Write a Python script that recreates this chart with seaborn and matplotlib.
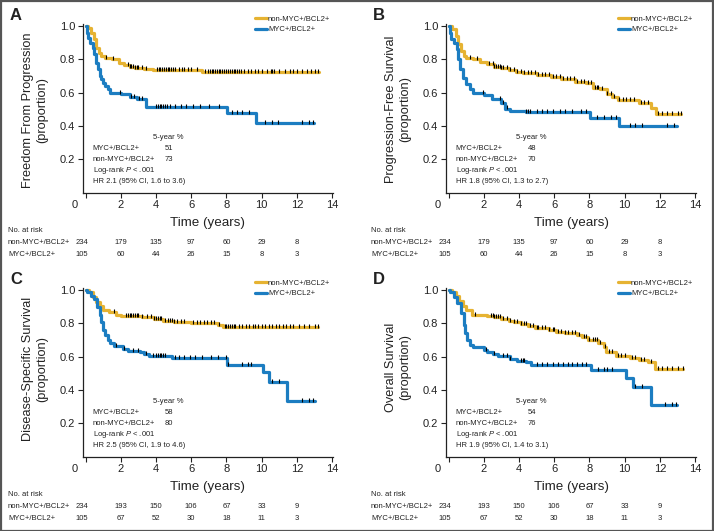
import numpy as np
import pandas as pd
import matplotlib
matplotlib.use("Agg")
import matplotlib.pyplot as plt
import seaborn as sns
from matplotlib.transforms import blended_transform_factory, ScaledTranslation

sns.set_theme(style="ticks")
FAM = ["Liberation Sans", "DejaVu Sans"]
plt.rcParams["font.family"] = FAM
plt.rcParams["mathtext.fontset"] = "custom"
plt.rcParams["mathtext.it"] = "Liberation Sans:italic"
plt.rcParams["mathtext.rm"] = "Liberation Sans"

YEL = "#E6B332"
BLU = "#1C7DC1"
INK = "#222222"

groups = ["non-MYC+/BCL2+", "MYC+/BCL2+"]
risk_times = [0, 2, 4, 6, 8, 10, 12]

# ---------------- Panel A : Freedom From Progression ----------------
a_yel_t = [0, 0.15, 0.3, 0.45, 0.6, 0.75, 0.9, 1.1, 1.5, 1.9, 2.2, 2.5, 2.8, 3.3, 3.8, 4.2, 6.6]
a_yel_s = [1.0, 0.99, 0.96, 0.92, 0.87, 0.84, 0.82, 0.81, 0.80, 0.78, 0.765, 0.755, 0.748, 0.742, 0.736, 0.733, 0.722]
a_yel_end = 13.25
a_yel_c = [1.17, 1.55, 2.4, 2.5, 2.6, 2.7, 2.8, 2.9, 3.0, 3.2, 3.4, 4.05, 4.15, 4.25, 4.35, 4.45, 4.55,
           4.65, 4.75, 4.85, 4.95, 5.1, 5.3, 5.5, 5.6, 5.8, 6.0, 6.3, 6.8, 6.95, 7.05, 7.15, 7.25, 7.35,
           7.45, 7.55, 7.65, 7.75, 7.85, 7.95, 8.1, 8.2, 8.3, 8.4, 8.5, 8.6, 8.7, 8.85, 9.0, 9.2, 9.4,
           9.6, 9.8, 10.0, 10.3, 10.5, 10.6, 10.7, 11.0, 11.3, 11.6, 11.8, 12.0, 12.3, 12.6, 12.8, 13.0, 13.2]
a_blu_t = [0, 0.05, 0.12, 0.25, 0.4, 0.5, 0.6, 0.7, 0.8, 0.9, 1.0, 1.1, 1.25, 1.4, 2.0, 2.5, 2.9, 3.4, 8.05, 9.65]
a_blu_s = [1.0, 0.96, 0.93, 0.90, 0.87, 0.83, 0.78, 0.74, 0.70, 0.68, 0.66, 0.64, 0.62, 0.60, 0.59, 0.575, 0.56, 0.512, 0.476, 0.42]
a_blu_end = 12.95
a_blu_c = [1.95, 2.55, 2.75, 3.05, 3.2, 4.0, 4.1, 4.2, 4.3, 4.4, 4.5, 4.6, 4.8, 5.1, 5.4, 5.7, 6.1,
           6.5, 7.0, 7.6, 8.3, 8.6, 8.9, 9.3, 10.2, 10.6, 10.9, 12.3, 12.7, 12.9]
a_five = [51, 73]
a_hr = "HR 2.1 (95% CI, 1.6 to 3.6)"
a_risk_non = [234, 179, 135, 97, 60, 29, 8]
a_risk_myc = [105, 60, 44, 26, 15, 8, 3]

# ---------------- Panel B : Progression-Free Survival ----------------
b_yel_t = [0, 0.2, 0.4, 0.55, 0.7, 0.85, 1.0, 1.4, 1.8, 2.2, 2.6, 3.0, 3.4, 3.8, 4.2, 5.0, 5.8, 6.4,
           7.2, 7.8, 8.2, 8.6, 9.0, 9.3, 9.6, 10.8, 11.5, 11.8]
b_yel_s = [1.0, 0.98, 0.94, 0.89, 0.85, 0.82, 0.81, 0.80, 0.786, 0.77, 0.755, 0.745, 0.735, 0.725,
           0.715, 0.705, 0.695, 0.68, 0.665, 0.655, 0.63, 0.62, 0.59, 0.575, 0.557, 0.535, 0.51, 0.47]
b_yel_end = 13.2
b_yel_c = [1.2, 1.6, 2.3, 2.5, 2.6, 2.7, 2.8, 2.9, 3.0, 3.1, 3.3, 3.5, 3.7, 3.9, 4.1, 4.3, 4.5, 4.7,
           4.9, 5.1, 5.3, 5.5, 5.7, 5.9, 6.1, 6.3, 6.5, 6.7, 6.9, 7.1, 7.3, 7.5, 7.7, 7.9, 8.1, 8.3,
           8.4, 8.5, 8.7, 9.0, 9.2, 9.4, 9.7, 9.9, 10.1, 10.3, 10.5, 10.9, 11.1, 11.3, 11.9, 12.1,
           12.4, 12.7, 13.0, 13.2]
b_blu_t = [0, 0.05, 0.15, 0.3, 0.45, 0.55, 0.65, 0.8, 1.0, 1.2, 1.4, 2.0, 2.45, 3.0, 3.2, 3.5, 4.4, 8.05, 9.65]
b_blu_s = [1.0, 0.96, 0.92, 0.90, 0.86, 0.80, 0.74, 0.69, 0.65, 0.62, 0.595, 0.585, 0.56, 0.535,
           0.505, 0.49, 0.482, 0.45, 0.40]
b_blu_end = 12.95
b_blu_c = [1.95, 2.9, 3.1, 3.3, 4.4, 4.5, 4.6, 5.0, 5.3, 5.6, 5.9, 6.3, 6.6, 7.0, 7.5, 7.8, 8.4,
           8.8, 9.2, 9.5, 10.3, 10.6, 11.0, 12.4, 12.8]
b_five = [48, 70]
b_hr = "HR 1.8 (95% CI, 1.3 to 2.7)"
b_risk_non = [234, 179, 135, 97, 60, 29, 8]
b_risk_myc = [105, 60, 44, 26, 15, 8, 3]

# ---------------- Panel C : Disease-Specific Survival ----------------
c_yel_t = [0, 0.2, 0.4, 0.6, 0.8, 1.0, 1.3, 1.7, 2.0, 3.2, 3.9, 4.4, 5.0, 6.0, 7.5, 7.8]
c_yel_s = [1.0, 0.985, 0.96, 0.93, 0.905, 0.88, 0.865, 0.85, 0.845, 0.835, 0.825, 0.815, 0.81, 0.80, 0.79, 0.776]
c_yel_end = 13.2
c_yel_c = [1.6, 2.3, 2.4, 2.5, 2.6, 2.7, 2.8, 2.9, 3.0, 3.2, 3.5, 3.7, 3.9, 4.0, 4.1, 4.2, 4.3, 4.5,
           4.7, 4.8, 4.9, 5.0, 5.2, 5.4, 5.6, 6.1, 6.3, 6.5, 6.7, 6.9, 7.1, 7.3, 7.6, 7.9, 8.0, 8.1,
           8.2, 8.3, 8.4, 8.5, 8.7, 8.9, 9.1, 9.3, 9.5, 9.6, 9.8, 10.0, 10.2, 10.4, 10.6, 10.8, 11.0,
           11.2, 11.4, 11.6, 11.8, 12.1, 12.4, 12.7, 13.0, 13.2]
c_blu_t = [0, 0.1, 0.3, 0.5, 0.65, 0.8, 0.9, 1.0, 1.1, 1.25, 1.4, 1.6, 2.15, 2.4, 3.1, 3.3, 3.6, 4.9,
           8.03, 10.1, 10.4, 11.45]
c_blu_s = [1.0, 0.985, 0.965, 0.945, 0.90, 0.85, 0.81, 0.76, 0.73, 0.70, 0.68, 0.665, 0.648, 0.636,
           0.626, 0.616, 0.603, 0.59, 0.55, 0.51, 0.446, 0.332]
c_blu_end = 13.0
c_blu_c = [1.7, 2.2, 2.7, 3.0, 3.4, 3.8, 4.0, 4.1, 4.2, 4.3, 4.4, 4.5, 5.1, 5.3, 5.6, 5.9, 6.2, 6.6,
           7.1, 7.5, 8.0, 8.1, 8.9, 9.2, 9.4, 10.6, 11.0, 12.3, 12.7, 12.9]
c_five = [58, 80]
c_hr = "HR 2.5 (95% CI, 1.9 to 4.6)"
c_risk_non = [234, 193, 150, 106, 67, 33, 9]
c_risk_myc = [105, 67, 52, 30, 18, 11, 3]

# ---------------- Panel D : Overall Survival ----------------
d_yel_t = [0, 0.2, 0.4, 0.6, 0.8, 1.0, 1.3, 2.2, 2.6, 3.0, 3.4, 3.7, 4.1, 4.5, 4.9, 5.7, 6.1, 6.6,
           7.3, 7.6, 7.9, 8.5, 8.8, 8.95, 9.5, 10.3, 10.8, 11.3, 11.7]
d_yel_s = [1.0, 0.99, 0.965, 0.935, 0.905, 0.88, 0.85, 0.842, 0.835, 0.826, 0.816, 0.806, 0.796,
           0.783, 0.772, 0.76, 0.748, 0.74, 0.73, 0.716, 0.697, 0.68, 0.656, 0.625, 0.606, 0.594,
           0.578, 0.566, 0.526]
d_yel_end = 13.3
d_yel_c = [1.5, 2.4, 2.5, 2.6, 2.7, 2.8, 2.9, 3.1, 3.3, 3.5, 3.7, 3.9, 4.1, 4.3, 4.4, 4.6, 4.8, 5.0,
           5.1, 5.3, 5.5, 5.7, 5.9, 6.0, 6.2, 6.4, 6.6, 6.8, 7.0, 7.2, 7.4, 7.7, 7.8, 8.0, 8.2, 8.3,
           8.4, 8.6, 8.9, 9.1, 9.3, 9.6, 9.8, 10.0, 10.4, 10.6, 10.9, 11.1, 11.5, 11.9, 12.1, 12.4,
           12.7, 13.0, 13.3]
d_blu_t = [0, 0.1, 0.3, 0.5, 0.7, 0.85, 0.95, 1.05, 1.2, 1.4, 2.0, 2.2, 2.5, 2.8, 3.5, 3.9, 4.4, 4.7,
           8.1, 10.08, 10.45, 11.5]
d_blu_s = [1.0, 0.99, 0.96, 0.92, 0.86, 0.79, 0.74, 0.70, 0.67, 0.656, 0.64, 0.626, 0.615, 0.602,
           0.586, 0.576, 0.566, 0.55, 0.522, 0.472, 0.416, 0.31]
d_blu_end = 12.95
d_blu_c = [2.1, 2.6, 3.1, 3.3, 3.5, 4.1, 4.2, 4.3, 5.0, 5.3, 5.6, 5.9, 6.2, 6.5, 6.8, 7.0, 7.3, 7.6,
           7.8, 8.5, 8.8, 9.0, 9.3, 10.6, 11.0, 12.3, 12.7, 12.9]
d_five = [54, 76]
d_hr = "HR 1.9 (95% CI, 1.4 to 3.1)"
d_risk_non = [234, 193, 150, 106, 67, 33, 9]
d_risk_myc = [105, 67, 52, 30, 18, 11, 3]

panel_letters = ["A", "B", "C", "D"]
panel_ylabels = ["Freedom From Progression", "Progression-Free Survival",
                 "Disease-Specific Survival", "Overall Survival"]

W, H = 714, 531
fig = plt.figure(figsize=(W / 100, H / 100), dpi=100)


def fx(px):
    return px / W


def fy(py):
    return 1 - py / H


def curve(ax, t, s, end, cens, color, label):
    df = pd.DataFrame({"time": list(t) + [end], "surv": list(s) + [s[-1]]})
    sns.lineplot(data=df, x="time", y="surv", drawstyle="steps-post", color=color, lw=2.3,
                 estimator=None, ax=ax, label=label, zorder=2)
    idx = np.searchsorted(np.asarray(t), np.asarray(cens), side="right") - 1
    cy = np.asarray(s)[idx] + 0.006
    sns.scatterplot(x=cens, y=cy, marker="|", color="black", s=8, linewidth=0.8,
                    ax=ax, legend=False, zorder=3)


panels = [
    (a_yel_t, a_yel_s, a_yel_end, a_yel_c, a_blu_t, a_blu_s, a_blu_end, a_blu_c, a_five, a_hr, a_risk_non, a_risk_myc),
    (b_yel_t, b_yel_s, b_yel_end, b_yel_c, b_blu_t, b_blu_s, b_blu_end, b_blu_c, b_five, b_hr, b_risk_non, b_risk_myc),
    (c_yel_t, c_yel_s, c_yel_end, c_yel_c, c_blu_t, c_blu_s, c_blu_end, c_blu_c, c_five, c_hr, c_risk_non, c_risk_myc),
    (d_yel_t, d_yel_s, d_yel_end, d_yel_c, d_blu_t, d_blu_s, d_blu_end, d_blu_c, d_five, d_hr, d_risk_non, d_risk_myc),
]
offsets = [(0, 0), (363, 0), (0, 264), (363, 264)]

SMALL = 5.5
for i, (pdata, (ox, oy)) in enumerate(zip(panels, offsets)):
    (yt, ys, yend, yc, bt, bs, bend, bc, five, hr, rnon, rmyc) = pdata
    left, right, top, bottom = 83 + ox, 333 + ox, 24.3 + oy, 192.7 + oy
    ax = fig.add_axes([fx(left), fy(bottom), fx(right - left), (bottom - top) / H])
    curve(ax, yt, ys, yend, yc, YEL, groups[0])
    curve(ax, bt, bs, bend, bc, BLU, groups[1])
    ax.set_xlim(-0.15, 14.05)
    ax.set_ylim(0, 1.01)
    ax.set_xticks(range(0, 15, 2))
    ax.set_yticks([0.2, 0.4, 0.6, 0.8, 1.0])
    ax.set_yticklabels(["0.2", "0.4", "0.6", "0.8", "1.0"])
    ax.set_xlabel("")
    ax.set_ylabel("")
    for sp in ["top", "right"]:
        ax.spines[sp].set_visible(False)
    for sp in ["left", "bottom"]:
        ax.spines[sp].set_color(INK)
        ax.spines[sp].set_linewidth(0.9)
    ax.tick_params(direction="out", length=3.5, width=0.8, color=INK, labelsize=8,
                   labelcolor=INK, pad=2)
    zero = ax.get_xticklabels()[0]
    zero.set_transform(zero.get_transform() + ScaledTranslation(-11 / 100, 0, fig.dpi_scale_trans))

    # legend
    leg = ax.legend(loc="upper left", bbox_to_anchor=(fx(255 + ox), fy(15.3 + oy)),
                    bbox_transform=fig.transFigure, frameon=False, fontsize=SMALL,
                    handlelength=1.55, handletextpad=0.15, labelspacing=0.45,
                    borderpad=0, borderaxespad=0)
    for ln in leg.get_lines():
        ln.set_linewidth(2.3)
    for tx in leg.get_texts():
        tx.set_color(INK)

    # statistics block
    ax.text(3.82, 0.334, "5-year %", fontsize=SMALL, color=INK, va="center", ha="left")
    ax.text(0.41, 0.268, groups[1], fontsize=SMALL, color=INK, va="center", ha="left")
    ax.text(4.74, 0.268, str(five[0]), fontsize=SMALL, color=INK, va="center", ha="center")
    ax.text(0.41, 0.202, groups[0], fontsize=SMALL, color=INK, va="center", ha="left")
    ax.text(4.74, 0.202, str(five[1]), fontsize=SMALL, color=INK, va="center", ha="center")
    ax.text(0.41, 0.133, "Log-rank $P$ < .001", fontsize=SMALL, color=INK, va="center", ha="left")
    ax.text(0.41, 0.066, hr, fontsize=SMALL, color=INK, va="center", ha="left")

    # panel letter, y label, x label
    fig.text(fx(10 + ox), fy(15 + oy), panel_letters[i], fontsize=12, fontweight="bold",
             color=INK, ha="left", va="center")
    ylc = [110, 109, 105, 103][i]
    fig.text(fx(35 + ox), fy(ylc + oy), panel_ylabels[i] + "\n(proportion)", rotation=90,
             fontsize=9.2, color=INK, ha="center", va="center", multialignment="center",
             linespacing=1.2)
    fig.text(fx(208 + ox), fy(223 + oy), "Time (years)", fontsize=9.6, color=INK,
             ha="center", va="center")

    # number at risk table
    fig.text(fx(8 + ox), fy(230 + oy), "No. at risk", fontsize=SMALL, color=INK, va="center")
    fig.text(fx(8 + ox), fy(242 + oy), groups[0], fontsize=SMALL, color=INK, va="center")
    fig.text(fx(8 + ox), fy(254 + oy), groups[1], fontsize=SMALL, color=INK, va="center")
    tr = blended_transform_factory(ax.transData, fig.transFigure)
    for tt, n1, n2 in zip(risk_times, rnon, rmyc):
        xx = tt if tt > 0 else -0.2
        ax.text(xx, fy(242 + oy), str(n1), transform=tr, fontsize=SMALL, color=INK,
                ha="center", va="center")
        ax.text(xx, fy(254 + oy), str(n2), transform=tr, fontsize=SMALL, color=INK,
                ha="center", va="center")

fig.add_artist(plt.Rectangle((0.5 / W, 0.5 / H), 1 - 1.5 / W, 1 - 1.5 / H, transform=fig.transFigure,
                             fill=False, lw=1.6, ec="#555555"))

fig.savefig("out.png", dpi=100)
